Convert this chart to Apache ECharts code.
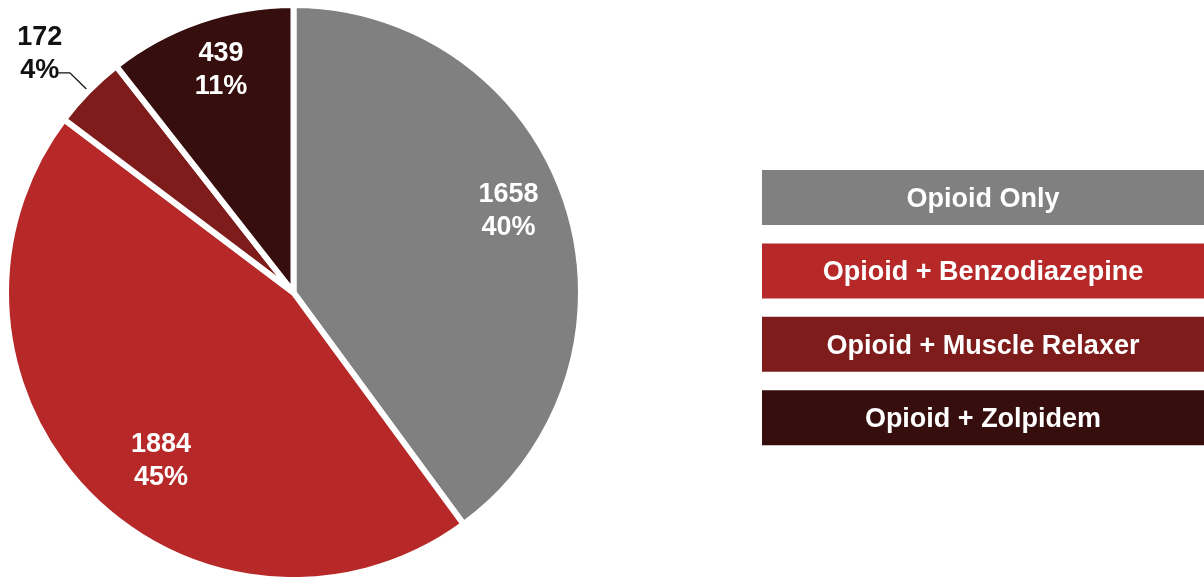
<!DOCTYPE html>
<html>
<head>
<meta charset="utf-8">
<script src="https://cdn.jsdelivr.net/npm/echarts@6/dist/echarts.min.js"></script>
<style>
  html, body { margin: 0; padding: 0; background: #ffffff; }
  #chart { width: 1204px; height: 577px; }
</style>
</head>
<body>
<div id="chart"></div>
<script>
// Categories, counts and slice colours
const categories = ['Opioid Only', 'Opioid + Benzodiazepine', 'Opioid + Muscle Relaxer', 'Opioid + Zolpidem'];
const counts = [1658, 1884, 172, 439];
const colors = ['#808080', '#B72828', '#7E1C1C', '#360E0E'];

const FONT = '"Liberation Sans", Arial, sans-serif';
const total = counts.reduce((a, b) => a + b, 0);
const pct = v => Math.round(v / total * 100) + '%';

// Small nudges for the in-slice labels (pixels)
const labelNudge = [[-2, -10], [30, 8], [0, 0], [2, -7]];
// The thin slice carries its label outside with a leader line
const outsideIndex = 2;

const center = [293.5, 292.5];
const outerR = 287.5;

const mainData = categories.map((name, i) => ({
  name,
  value: counts[i],
  itemStyle: { color: colors[i] },
  label: { show: i === outsideIndex },
  labelLine: { show: i === outsideIndex }
}));

const labelData = categories.map((name, i) => ({
  name,
  value: counts[i],
  label: { show: i !== outsideIndex }
}));

// Legend panels: one filled bar per category
const legendTop = 170, legendStep = 73.4, legendH = 55, legendX = 762, legendW = 442;
const legendGraphics = categories.map((name, i) => ({
  type: 'rect',
  silent: true,
  shape: { x: legendX, y: legendTop + i * legendStep, width: legendW, height: legendH },
  style: { fill: colors[i] },
  textContent: {
    style: {
      text: name,
      fill: '#ffffff',
      font: 'bold 27px ' + FONT
    }
  },
  textConfig: { position: 'inside', offset: [0, 2] }
}));

const chart = echarts.init(document.getElementById('chart'), null, { renderer: 'canvas' });
chart.setOption({
  backgroundColor: '#ffffff',
  animation: false,
  tooltip: { show: false },
  graphic: legendGraphics,
  series: [
    {
      type: 'pie',
      center: center,
      radius: [0, outerR],
      startAngle: 90,
      clockwise: true,
      avoidLabelOverlap: false,
      itemStyle: { borderColor: '#ffffff', borderWidth: 6 },
      label: {
        position: 'outside',
        distanceToLabelLine: 0,
        padding: [0, 0, 38, 0],
        formatter: p => '{a|' + p.value + '}\n{a|' + pct(p.value) + '}',
        rich: {
          a: {
            width: 36,
            align: 'center',
            color: '#111111',
            fontFamily: FONT,
            fontWeight: 'bold',
            fontSize: 27,
            lineHeight: 33
          }
        }
      },
      labelLine: {
        length: 26,
        length2: 12,
        lineStyle: { color: '#111111', width: 1.3 }
      },
      emphasis: { disabled: true },
      data: mainData
    },
    {
      // transparent ring that carries the in-slice value labels
      type: 'pie',
      center: center,
      radius: [163, outerR],
      startAngle: 90,
      clockwise: true,
      silent: true,
      itemStyle: { color: 'rgba(0,0,0,0)' },
      label: {
        position: 'inside',
        color: '#ffffff',
        fontFamily: FONT,
        fontWeight: 'bold',
        fontSize: 27,
        lineHeight: 33,
        align: 'center',
        formatter: p => p.value + '\n' + pct(p.value)
      },
      labelLine: { show: false },
      labelLayout: p => ({ dx: labelNudge[p.dataIndex][0], dy: labelNudge[p.dataIndex][1] }),
      emphasis: { disabled: true },
      data: labelData
    }
  ]
});
</script>
</body>
</html>
